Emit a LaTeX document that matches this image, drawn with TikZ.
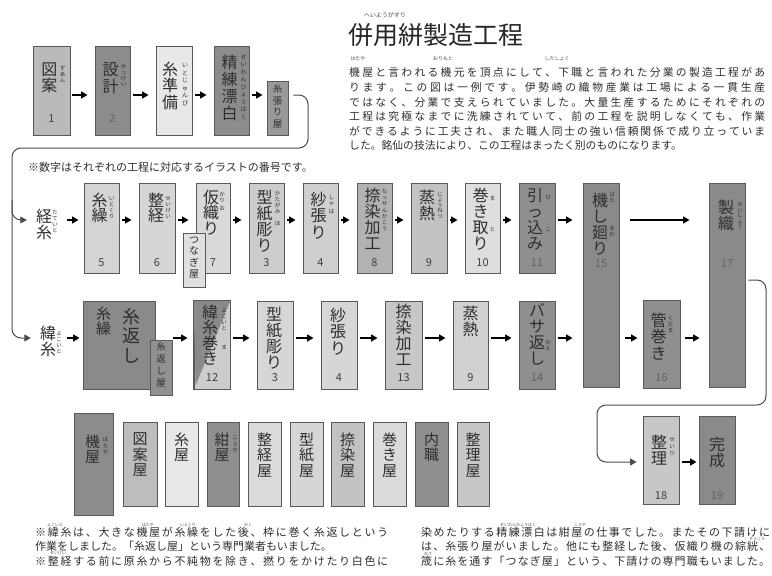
\documentclass[tikz,border=0pt]{standalone}
\usepackage{fontspec}
\setmainfont{Noto Sans CJK JP}
\usetikzlibrary{arrows.meta,fit}
\newcommand\vt[2]{\vbox{\baselineskip=#1\lineskip=0pt\lineskiplimit=-100pt\vtloop#2\relax}}
\def\vtloop#1{\ifx#1\relax\else\hbox to 1em{\hss#1\hss}\expandafter\vtloop\fi}
\newcommand\jl[2]{\hbox to #1{\jloop#2\relax\unskip}}
\def\jloop#1{\ifx#1\relax\else#1\hskip0pt plus 1fil\relax\expandafter\jloop\fi}
\tikzset{
  pbx/.style={draw=black!65, line width=0.9pt, inner sep=0pt},
  vtx/.style={inner sep=0pt, text=black!82},
  nmx/.style={inner sep=0pt, font=\fontsize{11}{11}\selectfont, text=black!75},
  nmd/.style={nmx, text=black!62},
  arr/.style={line width=1.5pt, -{Triangle[length=6.5pt,width=7pt]}, shorten <=3pt, shorten >=7pt},
  conn/.style={line width=1pt, draw=black!70, rounded corners=9pt},
  para/.style={inner sep=0pt, anchor=west, font=\fontsize{10.8}{10.8}\selectfont, text=black!82},
  btxt/.style={inner sep=0pt, anchor=west, font=\fontsize{11}{11}\selectfont, text=black!82},
  rubyh/.style={inner sep=0pt, anchor=center, font=\fontsize{5}{5}\selectfont, text=black!70},
  rubyb/.style={rubyh, font=\fontsize{4}{4}\selectfont},
}
\newcommand\pbox[6]{\node[pbx, fill=#6, fit={(#2,#3)(#4,#5)}] (#1) {};}
\newcommand\vlab[7]{\node[vtx, anchor=north, font=\fontsize{#5}{#5}\selectfont] (#1#2) at ([xshift=#3pt,yshift=-#4pt]#1.north) {\vt{#6pt}{#7}};}
\newcommand\ml[4]{\vlab{#1}{t}{#2}{#3}{16}{16.5}{#4}}
\newcommand\rl[5]{\vlab{#1}{#2}{#3}{#4}{5.5}{6}{#5}}
\newcommand\numl[3]{\node[nmx] (#1n) at ([yshift=#2pt]#1.south) {#3};}
\newcommand\numd[3]{\node[nmd] (#1n) at ([yshift=#2pt]#1.south) {#3};}
\begin{document}
\begin{tikzpicture}[x=1pt,y=-1pt]
\useasboundingbox (0,0) rectangle (772,576);
\fill[white] (0,0) rectangle (772,576);
\coordinate (ty) at (0,95);
\coordinate (wy) at (0,220);
\coordinate (fy) at (0,338);
\coordinate (by) at (0,462);

% ---------- title and paragraph
\node[inner sep=0pt, font=\fontsize{25}{25}\selectfont, text=black!85] (title) at (436,35) {併用絣製造工程};
\node[rubyh, font=\fontsize{6}{6}\selectfont] (titler) at (385,15) {へいようがすり};
\node[rubyh] (pr1) at (358,59) {はたや};
\node[rubyh] (pr2) at (443,59) {おりもと};
\node[rubyh] (pr3) at (557,59) {したしょく};
\node[para] (p1) at (349,72) {\jl{416pt}{機屋と言われる機元を頂点にして、下職と言われた分業の製造工程があ}};
\node[para] (p2) at (349,87) {\jl{416pt}{ります。この図は一例です。伊勢崎の織物産業は工場による一貫生産}};
\node[para] (p3) at (349,102) {\jl{416pt}{ではなく、分業で支えられていました。大量生産するためにそれぞれの}};
\node[para] (p4) at (349,116) {\jl{416pt}{工程は究極なまでに洗練されていて、前の工程を説明しなくても、作業}};
\node[para] (p5) at (349,131) {\jl{416pt}{ができるように工夫され、また職人同士の強い信頼関係で成り立っていま}};
\node[para] (p6) at (349,145) {した。銘仙の技法により、この工程はまったく別のものになります。};
\node[inner sep=0pt, anchor=west, font=\fontsize{11}{11}\selectfont, text=black!82] (note) at (28,167) {※数字はそれぞれの工程に対応するイラストの番号です。};

% ---------- top row
\pbox{zuan}{33}{46}{70}{135}{black!27}
\ml{zuan}{-2}{17}{図案} \rl{zuan}{r}{11}{20}{ずあん} \numl{zuan}{17}{1}
\pbox{sekkei}{95}{46}{130}{135}{black!45}
\ml{sekkei}{-2}{17}{設計} \rl{sekkei}{r}{11}{19}{せっけい} \numd{sekkei}{17}{2}
\pbox{itojunbi}{156}{46}{192}{135}{black!9}
\ml{itojunbi}{-4}{16}{糸準備} \vlab{itojunbi}{r}{11}{18}{6}{7.5}{いとじゅんび}
\pbox{seiren}{214}{46}{249}{135}{black!45}
\vlab{seiren}{t}{-2}{9}{16}{17}{精練漂白} \vlab{seiren}{r}{12}{9}{6}{7.5}{せいれんひょうはく}
\pbox{itoharu}{267}{81}{288}{135}{black!40}
\vlab{itoharu}{t}{0}{4}{9.5}{11.5}{糸張り屋}

\draw[arr, shorten <=2pt] (zuan.east |- ty) -- (sekkei.west |- ty);
\draw[arr] (sekkei.east |- ty) -- (itojunbi.west |- ty);
\draw[arr] (itojunbi.east |- ty) -- (seiren.west |- ty);
\draw[arr, shorten >=4pt] (seiren.east |- ty) -- (itoharu.west |- ty);

% ---------- warp row
\node[vtx, font=\fontsize{16}{16}\selectfont] (keiito) at (44,224) {\vt{16pt}{経糸}};
\node[vtx, font=\fontsize{5.5}{5.5}\selectfont] (keiitor) at (55,221) {\vt{6pt}{たていと}};
\pbox{ito5}{84}{183}{119}{273}{black!17}
\vlab{ito5}{t}{-2}{10}{16}{15.5}{糸繰} \rl{ito5}{r}{10}{14}{いとくり} \numl{ito5}{11}{5}
\pbox{seikei}{139}{183}{175}{273}{black!16}
\vlab{seikei}{t}{-1}{10}{16}{15.5}{整経} \rl{seikei}{r}{11}{14}{せいけい} \numl{seikei}{11}{6}
\pbox{kariori}{196}{183}{230}{273}{black!15}
\vlab{kariori}{t}{-2}{7}{16}{15.5}{仮織り} \rl{kariori}{r}{9}{9}{かり} \rl{kariori}{rb}{9}{23}{お} \numl{kariori}{11}{7}
\pbox{tsunagi}{183}{233}{205}{287}{black!12}
\vlab{tsunagi}{t}{0}{4}{10}{11.5}{つなぎ屋}
\pbox{katagami}{249}{183}{284}{273}{black!20}
\vlab{katagami}{t}{-2}{7}{16}{16}{型紙彫り} \rl{katagami}{r}{11}{8}{かたがみ} \rl{katagami}{rb}{11}{39}{ほ} \numl{katagami}{11}{3}
\pbox{shaha}{303}{183}{338}{273}{black!19}
\ml{shaha}{-2}{9}{紗張り} \rl{shaha}{r}{11}{12}{しゃ} \rl{shaha}{rb}{11}{27}{は} \numl{shaha}{11}{4}
\pbox{nassen}{357}{183}{392}{273}{black!30}
\vlab{nassen}{t}{-2}{5}{16}{16}{捺染加工} \vlab{nassen}{r}{10}{6}{5.5}{6.3}{なっせんかこう} \numl{nassen}{11}{8}
\pbox{jonetsu}{411}{183}{447}{273}{black!24}
\ml{jonetsu}{-2}{7}{蒸熱} \vlab{jonetsu}{r}{11}{9}{5.5}{5.5}{じょうねつ} \numl{jonetsu}{11}{9}
\pbox{makitori}{465}{183}{500}{273}{black!13}
\vlab{makitori}{t}{-2}{5}{16}{16}{巻き取り} \rl{makitori}{r}{10}{13}{ま} \rl{makitori}{rb}{10}{44}{と} \numl{makitori}{11}{10}
\pbox{hikkomi}{519}{183}{555}{273}{black!44}
\vlab{hikkomi}{t}{-2}{5}{16}{16}{引っ込み} \rl{hikkomi}{r}{11}{13}{ひ} \rl{hikkomi}{rb}{11}{45}{こ} \numd{hikkomi}{11}{11}
\pbox{hatashi}{583}{183}{619}{387}{black!46}
\vlab{hatashi}{t}{-1}{10}{16}{16}{機し廻り} \rl{hatashi}{r}{11}{10}{はた} \rl{hatashi}{rb}{11}{43}{まわ} \numd{hatashi}{124}{15}
\pbox{seishoku}{709}{183}{745}{387}{black!46}
\ml{seishoku}{-1}{17}{製織} \vlab{seishoku}{r}{13}{20}{5.5}{5.5}{せいしょく} \numd{seishoku}{124}{17}

\draw[arr, shorten <=15pt, shorten >=5pt] (keiito.east |- wy) -- (ito5.west |- wy);
\draw[arr] (ito5.east |- wy) -- (seikei.west |- wy);
\draw[arr] (seikei.east |- wy) -- (kariori.west |- wy);
\draw[arr] (kariori.east |- wy) -- (katagami.west |- wy);
\draw[arr] (katagami.east |- wy) -- (shaha.west |- wy);
\draw[arr] (shaha.east |- wy) -- (nassen.west |- wy);
\draw[arr] (nassen.east |- wy) -- (jonetsu.west |- wy);
\draw[arr] (jonetsu.east |- wy) -- (makitori.west |- wy);
\draw[arr] (makitori.east |- wy) -- (hikkomi.west |- wy);
\draw[arr, shorten >=10pt] (hikkomi.east |- wy) -- (hatashi.west |- wy);
\draw[arr, shorten <=11pt, shorten >=19pt] (hatashi.east |- wy) -- (seishoku.west |- wy);

% ---------- weft row
\node[vtx, font=\fontsize{16}{16}\selectfont] (yokoito) at (48,341) {\vt{16pt}{緯糸}};
\node[vtx, font=\fontsize{5.5}{5.5}\selectfont] (yokoitor) at (59,342) {\vt{6pt}{よこいと}};
\pbox{ito2}{83}{301}{155}{389}{black!46}
\vlab{ito2}{t}{-15.5}{6}{15}{15.5}{糸繰} \vlab{ito2}{tb}{12.5}{7}{18}{19.5}{糸返し}
\pbox{itokaeshi}{150}{340}{172}{395}{black!43}
\vlab{itokaeshi}{t}{0}{3}{9.5}{12}{糸返し屋}
\pbox{yokomaki}{194}{301}{230}{389}{black!20}
\fill[black!46] (yokomaki.north west) -- (yokomaki.north east) -- ([xshift=2pt,yshift=4pt]yokomaki.south west) -- cycle;
\draw[black!65, line width=0.9pt] (yokomaki.north west) rectangle (yokomaki.south east);
\vlab{yokomaki}{t}{-2}{4}{16}{15.5}{緯糸巻き} \rl{yokomaki}{r}{12}{7}{よこいと} \rl{yokomaki}{rb}{12}{44}{ま} \numl{yokomaki}{12}{12}
\pbox{katagami2}{257}{301}{293}{389}{black!16}
\vlab{katagami2}{t}{-1}{6}{16}{16}{型紙彫り} \numl{katagami2}{12}{3}
\pbox{shaha2}{321}{301}{357}{389}{black!16}
\ml{shaha2}{-1}{7}{紗張り} \numl{shaha2}{12}{4}
\pbox{nassen2}{385}{301}{422}{389}{black!22}
\vlab{nassen2}{t}{0}{3}{16}{16}{捺染加工} \numl{nassen2}{12}{13}
\pbox{jonetsu2}{453}{301}{488}{389}{black!18}
\ml{jonetsu2}{0}{5}{蒸熱} \numl{jonetsu2}{12}{9}
\pbox{basa}{519}{301}{555}{389}{black!44}
\vlab{basa}{t}{0}{3}{16}{16}{バサ返し} \rl{basa}{r}{11}{39}{かえ} \numd{basa}{12}{14}
\pbox{kudamaki}{643}{300}{680}{388}{black!44}
\ml{kudamaki}{-3}{13}{管巻き} \rl{kudamaki}{r}{9}{16}{くだま} \numd{kudamaki}{11}{16}

\draw[arr, shorten <=11pt, shorten >=3pt] (yokoito.east |- fy) -- (ito2.west |- fy);
\draw[arr, shorten <=1pt, shorten >=6pt] (itokaeshi.east |- fy) -- (yokomaki.west |- fy);
\draw[arr] (yokomaki.east |- fy) -- (katagami2.west |- fy);
\draw[arr] (katagami2.east |- fy) -- (shaha2.west |- fy);
\draw[arr] (shaha2.east |- fy) -- (nassen2.west |- fy);
\draw[arr] (nassen2.east |- fy) -- (jonetsu2.west |- fy);
\draw[arr] (jonetsu2.east |- fy) -- (basa.west |- fy);
\draw[arr, shorten >=10pt] (basa.east |- fy) -- (hatashi.west |- fy);
\draw[arr, shorten <=6pt, shorten >=5pt] (hatashi.east |- fy) -- (kudamaki.west |- fy);
\draw[arr, shorten <=5pt, shorten >=9pt] (kudamaki.east |- fy) -- (seishoku.west |- fy);

% ---------- final
\pbox{seiri}{643}{416}{679}{504}{black!22}
\ml{seiri}{-2}{19}{整理} \vlab{seiri}{r}{11}{22}{5.5}{7}{せいり} \numl{seiri}{9}{18}
\pbox{kansei}{699}{416}{735}{504}{black!46}
\ml{kansei}{0}{21}{完成} \numd{kansei}{9}{19}
\draw[arr, shorten >=2pt] (seiri.east |- by) -- (kansei.west |- by);

% ---------- loop connectors
\coordinate (c1) at (308,95);
\coordinate (c2) at (308,148);
\coordinate (c3) at (12,148);
\coordinate (c4) at (12,220);
\coordinate (c4a) at (12,200);
\coordinate (c5) at (12,338);
\draw[conn, -{Triangle[length=6.5pt,width=7pt]}, shorten <=5pt, shorten >=9pt] (itoharu.east |- ty) -- (c1) -- (c2) -- (c3) -- (c4) -- (keiito.west |- wy);
\draw[conn, -{Triangle[length=6.5pt,width=7pt]}, shorten >=9pt] (c4a) -- (c5) -- (yokoito.west |- fy);

\coordinate (r1) at (766,280);
\coordinate (r2) at (766,405);
\coordinate (r3) at (597,405);
\coordinate (r4) at (597,462);
\draw[conn, -{Triangle[length=6.5pt,width=7pt]}, shorten <=3pt, shorten >=6pt] (seishoku.east |- r1) -- (r1) -- (r2) -- (r3) -- (r4) -- (seiri.west |- r4);

% ---------- shops
\pbox{hataya}{74}{413}{113}{515}{black!45}
\vlab{hataya}{t}{-1}{22}{15}{15.5}{機屋} \vlab{hataya}{r}{12}{25}{5.5}{6.5}{はたや}
\pbox{zuanya}{123}{422}{157}{506}{black!26}
\vlab{zuanya}{t}{0}{11}{15}{15.5}{図案屋}
\pbox{itoya}{165}{422}{198}{506}{black!9}
\vlab{itoya}{t}{0}{11}{15}{15.5}{糸屋}
\pbox{konya}{207}{422}{239}{506}{black!44}
\vlab{konya}{t}{-1}{11}{15}{15.5}{紺屋} \vlab{konya}{r}{12}{14}{5.5}{6.5}{こうや}
\pbox{seikeiya}{248}{422}{281}{506}{black!14}
\vlab{seikeiya}{t}{0}{11}{15}{15.5}{整経屋}
\pbox{katagamiya}{290}{422}{323}{506}{black!16}
\vlab{katagamiya}{t}{0}{11}{15}{15.5}{型紙屋}
\pbox{nassenya}{331}{422}{364}{506}{black!24}
\vlab{nassenya}{t}{0}{11}{15}{15.5}{捺染屋}
\pbox{makiya}{373}{422}{406}{506}{black!14}
\vlab{makiya}{t}{0}{11}{15}{15.5}{巻き屋}
\pbox{naishoku}{415}{422}{448}{506}{black!44}
\vlab{naishoku}{t}{0}{11}{15}{15.5}{内職}
\pbox{seiriya}{457}{422}{489}{506}{black!22}
\vlab{seiriya}{t}{0}{11}{15}{15.5}{整理屋}

% ---------- bottom notes
\node[rubyb] (br1) at (55,525) {よこいと};
\node[rubyb] (br2) at (148,525) {はたや};
\node[rubyb] (br3) at (188,525) {いとくり};
\node[rubyb] (br4) at (248,525) {わく};
\node[rubyb] (br5) at (58,553.5) {せいけい};
\node[rubyb] (br6) at (268,553.5) {よ};
\node[btxt] (b1) at (35,532) {\jl{353pt}{※緯糸は、大きな機屋が糸繰をした後、枠に巻く糸返しという}};
\node[btxt] (b2) at (35,546) {作業をしました。「糸返し屋」という専門業者もいました。};
\node[btxt] (b3) at (35,561) {\jl{353pt}{※整経する前に原糸から不純物を除き、撚りをかけたり白色に}};
\node[rubyb] (br7) at (518,525) {せいれんひょうはく};
\node[rubyb] (br8) at (580,525) {こうや};
\node[rubyb] (br9) at (757,539) {そうこう};
\node[rubyb] (br10) at (428,553.5) {おさ};
\node[btxt] (b4) at (421,532) {\jl{349pt}{染めたりする精練漂白は紺屋の仕事でした。またその下請けに}};
\node[btxt] (b5) at (421,546) {\jl{349pt}{は、糸張り屋がいました。他にも整経した後、仮織り機の綜絖、}};
\node[btxt] (b6) at (421,561) {\jl{349pt}{筬に糸を通す「つなぎ屋」という、下請けの専門職もいました。}};
\end{tikzpicture}
\end{document}
